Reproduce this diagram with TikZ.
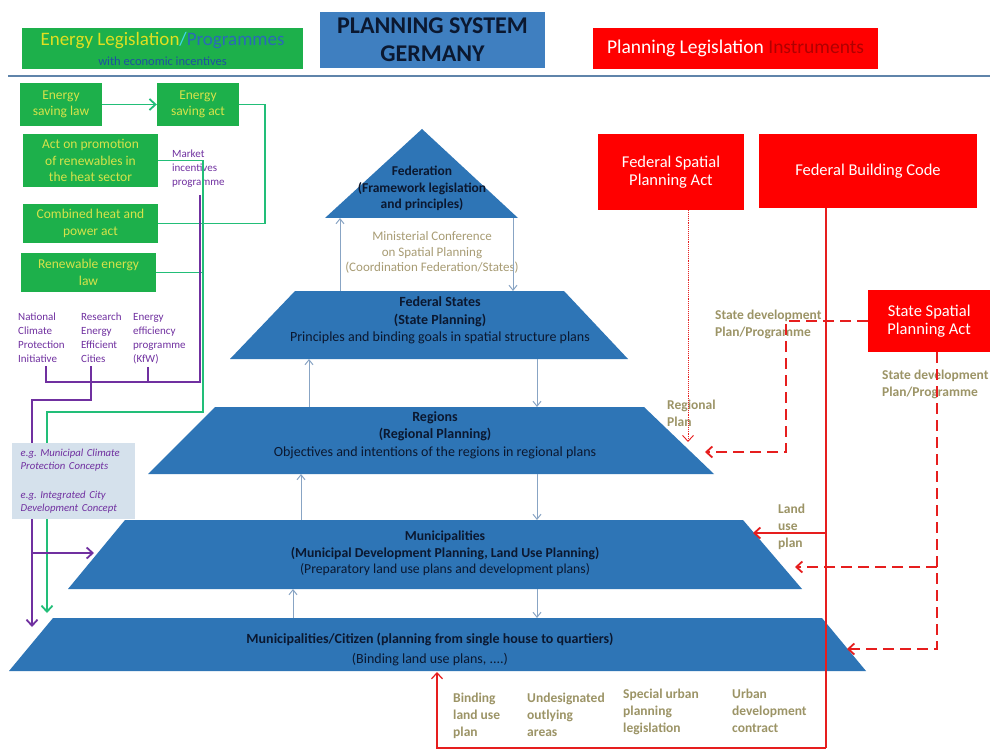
\documentclass[tikz,border=0pt]{standalone}
\usepackage{fontspec}
\setmainfont{Carlito}
\usetikzlibrary{arrows.meta}
\definecolor{grn}{HTML}{1DB04B}
\definecolor{gtxt}{HTML}{D6E34A}
\definecolor{gline}{HTML}{22BE78}
\definecolor{purp}{HTML}{7030A0}
\definecolor{pyrblue}{HTML}{2E75B6}
\definecolor{hdrblue}{HTML}{3F7FC0}
\definecolor{rboxc}{HTML}{FF0000}
\definecolor{rlin}{HTML}{E61E1E}
\definecolor{olive}{HTML}{9C9466}
\definecolor{mintxt}{HTML}{A89C74}
\definecolor{barrow}{HTML}{88A4C4}
\definecolor{lbox}{HTML}{D5E1EC}
\definecolor{sepc}{HTML}{5F84AA}
\definecolor{ylw}{HTML}{E0E020}
\definecolor{cyn}{HTML}{40D8F0}
\definecolor{pblu}{HTML}{2A6AB8}
\definecolor{dblu}{HTML}{2050A0}
\definecolor{ditxt}{HTML}{B00000}
\definecolor{navy}{HTML}{0B1830}
\newcommand\fPyr{\fontsize{14}{17.5}\selectfont}
\newcommand\fGb{\fontsize{13.5}{16.5}\selectfont}
\newcommand\fPu{\fontsize{11}{14}\selectfont}
\newcommand\fLb{\fontsize{13.5}{17}\selectfont}
\newcommand\fMi{\fontsize{13}{15.5}\selectfont}
\newcommand\fRb{\fontsize{16.5}{18.5}\selectfont}
\frenchspacing
\begin{document}
\begin{tikzpicture}[x=1pt,y=-1pt,
  gbox/.style={fill=grn,text=gtxt,align=center,font=\fGb,inner sep=0pt},
  rbox/.style={fill=rboxc,text=white,align=center,font=\fRb,inner sep=0pt},
  ptxt/.style={text=navy,align=center,font=\fPyr,inner sep=0pt},
  pyr/.style={fill=pyrblue},
  gl/.style={draw=gline,line width=1.8pt},
  pl/.style={draw=purp,line width=1.8pt},
  plab/.style={text=purp,align=left,font=\fPu,inner sep=0pt,anchor=north west},
  olab/.style={text=olive,align=left,font=\fLb\bfseries,inner sep=0pt,anchor=north west},
  ba/.style={draw=barrow,line width=1pt,-{Straight Barb[length=5pt,width=8pt]}},
  tip/.style={-{Straight Barb[length=6pt,width=11pt]}},
  rl/.style={draw=rlin,line width=1.8pt},
  rdash/.style={draw=rlin,line width=1.8pt,dash pattern=on 11pt off 6pt},
  rdot/.style={draw=rlin,line width=0.9pt,densely dotted}
]
\useasboundingbox (0,0) rectangle (990,751);
\fill[white] (0,0) rectangle (990,751);

% header
\node[fill=grn,minimum width=281,minimum height=41,inner sep=0pt] (hE) at (162.5,48.5) {};
\node[inner sep=0pt,font=\fontsize{19}{19}\selectfont] (hE1) at (162.5,41)
  {\color{ylw}Energy Legislation\color{cyn}/\color{pblu}Programmes};
\node[inner sep=0pt,font=\fontsize{12.5}{13}\selectfont,text=dblu] (hE2) at (162.5,61) {with economic incentives};
\node[fill=hdrblue,minimum width=225,minimum height=56,align=center,inner sep=0pt,text=navy,
  font=\fontsize{24}{28}\selectfont\bfseries] (hB) at (432.5,40) {PLANNING SYSTEM\\GERMANY};
\node[fill=rboxc,minimum width=285,minimum height=41,inner sep=0pt,font=\fontsize{19.5}{20}\selectfont] (hR) at (735.5,48.5)
  {\textcolor{white}{Planning Legislation} \textcolor{ditxt}{Instruments}};
\coordinate (sepL) at (8,76);
\coordinate (sepR) at (990,76);
\draw[sepc,line width=2.5pt] (sepL) -- (sepR);

% green boxes
\node[gbox,minimum width=82,minimum height=43] (esl) at (61,104.5) {Energy\\saving law};
\node[gbox,minimum width=82,minimum height=43] (esa) at (198,104.5) {Energy\\saving act};
\node[gbox,minimum width=135,minimum height=53] (apr) at (90.5,160.5) {Act on promotion\\of renewables in\\the heat sector};
\node[gbox,minimum width=135,minimum height=39] (chp) at (90.5,223.5) {Combined heat and\\power act};
\node[gbox,minimum width=135,minimum height=39] (rel) at (88.5,272.5) {Renewable energy\\law};

% purple labels
\node[plab] (mip) at (172,150) {Market\\incentives\\programme};
\node[plab] (nci) at (18,313) {National\\Climate\\Protection\\Initiative};
\node[plab] (rec) at (81,313) {Research\\Energy\\Efficient\\Cities};
\node[plab] (eep) at (133,313) {Energy\\efficiency\\programme\\(KfW)};

% pyramid layers
\coordinate (fedB) at (0,218);
\coordinate (fsT) at (0,291);
\coordinate (fsB) at (0,359);
\coordinate (regT) at (0,407);
\coordinate (regB) at (0,474);
\coordinate (munT) at (0,520);
\coordinate (munB) at (0,589);
\coordinate (citT) at (0,618);
\coordinate (citB) at (0,671);
\fill[pyr] (422,129) -- (518,218) -- (325,218) -- cycle;
\fill[pyr] (230,359) -- (295,291) -- (564,291) -- (628,359) -- cycle;
\fill[pyr] (148,474) -- (215,407) -- (644,407) -- (714,474) -- cycle;
\fill[pyr] (68,589) -- (125,520) -- (743,520) -- (802,589) -- cycle;
\fill[pyr] (9,671) -- (53,618) -- (822,618) -- (866,671) -- cycle;
\node[ptxt,font=\fontsize{13.5}{16.5}\selectfont\bfseries] (fed) at (422,188.5) {Federation\\(Framework legislation\\and principles)};
\node[ptxt] (fs) at (440,320.5) {\textbf{Federal States}\\\textbf{(State Planning)}\\Principles and binding goals in spatial structure plans};
\node[ptxt] (reg) at (435,435) {\textbf{Regions}\\\textbf{(Regional Planning)}\\Objectives and intentions of the regions in regional plans};
\node[ptxt,font=\fontsize{13.7}{16.5}\selectfont] (mun) at (445,553.5) {\textbf{Municipalities}\\\textbf{(Municipal Development Planning, Land Use Planning)}\\(Preparatory land use plans and development plans)};
\node[ptxt,font=\fontsize{14}{20}\selectfont] (cit) at (430,650) {\textbf{Municipalities/Citizen (planning from single house to quartiers)}\\(Binding land use plans, ....)};
\node[text=mintxt,align=center,font=\fMi,inner sep=0pt] (msc) at (432,252.5) {Ministerial Conference\\on Spatial Planning\\(Coordination Federation/States)};

% blue arrows between layers
\draw[ba] (340,0 |- fsT) -- (340,0 |- fedB);
\draw[ba] (513,0 |- fedB) -- (513,0 |- fsT);
\draw[ba] (309,0 |- regT) -- (309,0 |- fsB);
\draw[ba] (537,0 |- fsB) -- (537,0 |- regT);
\draw[ba] (301,0 |- munT) -- (301,0 |- regB);
\draw[ba] (537,0 |- regB) -- (537,0 |- munT);
\draw[ba] (293,0 |- citT) -- (293,0 |- munB);
\draw[ba] (537,0 |- munB) -- (537,0 |- citT);

% green connectors
\coordinate (gx) at (203,412);
\coordinate (gtip) at (47,613);
\draw[gl,tip] (esl.east) -- (esa.west);
\draw[gl] (esa.east) -- ++(26,0) |- (chp.east);
\draw[gl,tip] (apr.east) -| (gx) -| (gtip);
\draw[gl] (rel.east) -- (203,0 |- rel.east);

% purple connectors
\coordinate (pj) at (200,382);
\coordinate (ptip) at (32,627);
\coordinate (munL) at (94,553);
\draw[pl] (46,0 |- nci.south) ++(0,3) -- (46,382) -- (pj) -- (200,195);
\draw[pl] (148,0 |- eep.south) ++(0,3) -- (148,382);
\draw[pl,tip] (91,0 |- rec.south) ++(0,3) -- (91,400) -| (ptip);
\draw[pl,tip] (32,553) -- (munL);

% light box
\node[fill=lbox,anchor=north west,minimum height=76,text width=106,inner xsep=8.5pt,inner ysep=0pt,align=left,
  text=purp,font=\fontsize{10.7}{13}\selectfont\itshape] (ebox) at (12,443)
  {e.g. Municipal Climate\\Protection Concepts\\[16pt]e.g. Integrated City\\Development Concept};

% red boxes
\node[rbox,minimum width=146,minimum height=76] (fspa) at (671,172) {Federal Spatial\\Planning Act};
\node[rbox,minimum width=218,minimum height=74] (fbc) at (868,171) {Federal Building Code};
\node[rbox,minimum width=122,minimum height=62,anchor=west] (sspa) at (868,321) {State Spatial\\Planning Act};

% olive labels
\node[olab] (sdp1) at (715,310) {State development\\Plan/Programme};
\node[olab] (sdp2) at (882,370) {State development\\Plan/Programme};
\node[olab] (rpl) at (667,400) {Regional\\Plan};
\node[olab] (lup) at (778,504) {Land\\use\\plan};
\node[olab] (b1) at (453,693) {Binding\\land use\\plan};
\node[olab] (b2) at (527,693) {Undesignated\\outlying\\areas};
\node[olab] (b3) at (623,689) {Special urban\\planning\\legislation};
\node[olab] (b4) at (732,689) {Urban\\development\\contract};

% red connectors
\coordinate (rbl) at (437,748);
\coordinate (rbr) at (826,748);
\coordinate (citBot) at (437,672);
\coordinate (munR) at (753,533);
\coordinate (regR) at (705,452);
\coordinate (munR2) at (795,567);
\coordinate (citR) at (847,649);
\coordinate (regP) at (688,442);
\draw[rl] (826,0 |- fbc.south) -- (rbr);
\draw[draw=rlin,line width=1.2pt,tip] (rbr) -- (rbl) -- (citBot);
\draw[rl,tip] (826,533) -- (munR);
\draw[rdot,tip] (688,0 |- fspa.south) -- (regP);
\draw[rdash,tip] (sspa.west) -- (786,321) |- (regR);
\draw[rdash,tip] (937,0 |- sspa.south) |- (citR);
\draw[rdash,tip] (937,567) -- (munR2);
\end{tikzpicture}
\end{document}
